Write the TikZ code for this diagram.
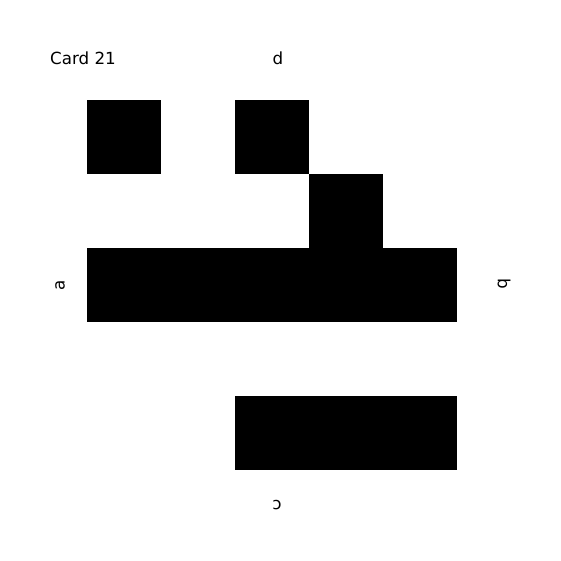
\documentclass[tikz,border=0pt]{standalone}
\usepackage{fontspec}
\setmainfont{DejaVu Sans}
\begin{document}
\begin{tikzpicture}[x=1pt,y=-1pt,
  cell/.style={fill=black,draw=none},
  lbl/.style={inner sep=0pt,font=\fontsize{16.7}{20}\selectfont}]
\useasboundingbox[fill=white] (0,0) rectangle (561,561);
% row 0
\path[cell] (87,100) rectangle (161,174);
\path[cell] (235,100) rectangle (309,174);
% row 1
\path[cell] (309,174) rectangle (383,248);
% row 2
\path[cell] (87,248) rectangle (457,322);
% row 4
\path[cell] (235,396) rectangle (457,470);
% labels
\node[lbl,anchor=west] (title) at (50,58) {Card 21};
\node[lbl] (top) at (278,58) {d};
\node[lbl,rotate=90] (left) at (60,285) {a};
\node[lbl,rotate=-90] (right) at (504,284) {b};
\node[lbl,rotate=180] (bottom) at (277,505) {c};
\end{tikzpicture}
\end{document}
